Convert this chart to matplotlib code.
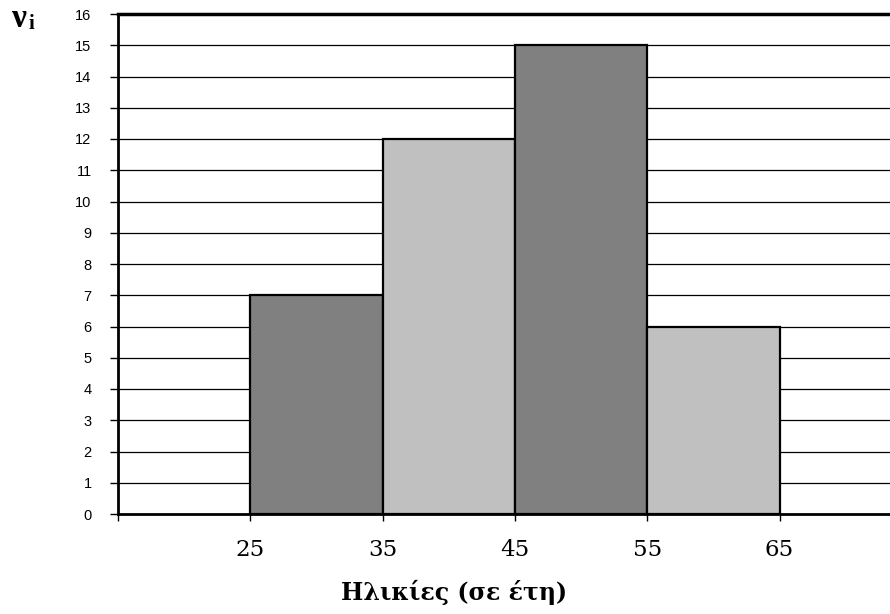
import numpy as np
import matplotlib
matplotlib.use("Agg")
import matplotlib.pyplot as plt

# class edges (years) and frequencies
edges = [25, 35, 45, 55, 65]
freqs = [7, 12, 15, 6]
colors = ["#808080", "#c0c0c0", "#808080", "#c0c0c0"]
x_labels = ["25", "35", "45", "55", "65"]
y_ticks = list(range(0, 17))

fig = plt.figure(figsize=(8.9, 6.14), dpi=100)
ax = fig.add_axes([118 / 890, 1 - 514 / 614, 772 / 890, 500 / 614])

ax.set_xlim(15, 15 + 772 / 13.23)
ax.set_ylim(0, 16)

for y in y_ticks[1:-1]:
    ax.axhline(y, color="black", lw=0.9, zorder=1)

widths = np.diff(edges)
ax.bar(edges[:-1], freqs, width=widths, align="edge", color=colors,
       edgecolor="black", linewidth=1.6, zorder=2)

ax.set_yticks(y_ticks)
ax.set_yticklabels([str(v) for v in y_ticks], family="Liberation Sans", fontsize=10.5)
ax.tick_params(axis="y", direction="out", length=6, width=1, pad=13)

ax.set_xticks([15] + edges)
ax.set_xticklabels([""] + x_labels, family="DejaVu Serif", fontsize=16.5)
ax.tick_params(axis="x", direction="out", length=5, width=1, pad=13)

for s in ["left", "bottom"]:
    ax.spines[s].set_linewidth(2)
ax.spines["top"].set_linewidth(2.5)
ax.spines["right"].set_visible(False)

fig.text(454 / 890, 1 - 592 / 614, "Ηλικίες (σε έτη)", family="DejaVu Serif",
         fontweight="bold", fontsize=17, ha="center", va="center")
fig.text(12 / 890, 1 - 27 / 614, "ν", family="Liberation Serif",
         fontweight="bold", fontsize=24, ha="left", va="baseline")
fig.text(29 / 890, 1 - 29 / 614, "i", family="Liberation Serif",
         fontweight="bold", fontsize=15, ha="left", va="baseline")

fig.savefig("out.png", dpi=100)
